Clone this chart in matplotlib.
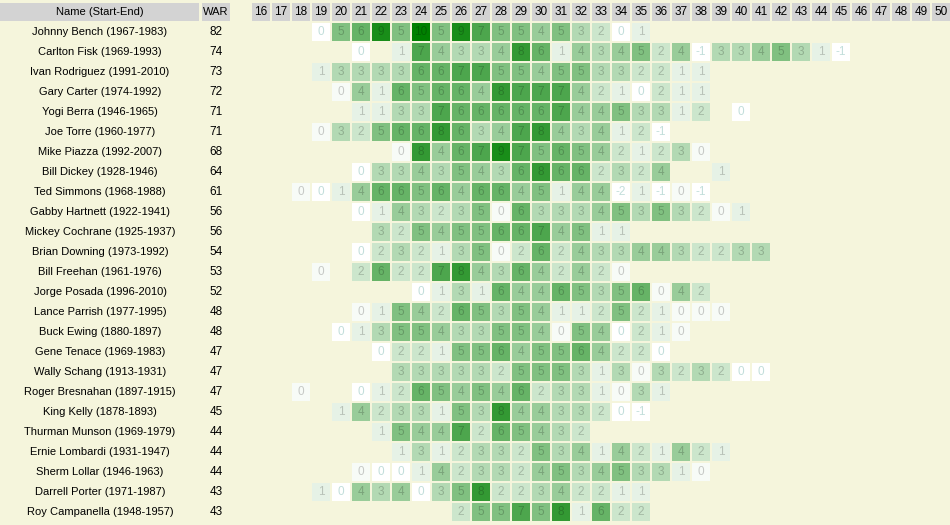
import numpy as np
import matplotlib
matplotlib.use("Agg")
import matplotlib.pyplot as plt
from matplotlib.patches import Rectangle

# data read off the table (None = no season at that age)
names = ["Johnny Bench (1967-1983)", "Carlton Fisk (1969-1993)", "Ivan Rodriguez (1991-2010)",
         "Gary Carter (1974-1992)", "Yogi Berra (1946-1965)", "Joe Torre (1960-1977)",
         "Mike Piazza (1992-2007)", "Bill Dickey (1928-1946)", "Ted Simmons (1968-1988)",
         "Gabby Hartnett (1922-1941)", "Mickey Cochrane (1925-1937)", "Brian Downing (1973-1992)",
         "Bill Freehan (1961-1976)", "Jorge Posada (1996-2010)", "Lance Parrish (1977-1995)",
         "Buck Ewing (1880-1897)", "Gene Tenace (1969-1983)", "Wally Schang (1913-1931)",
         "Roger Bresnahan (1897-1915)", "King Kelly (1878-1893)", "Thurman Munson (1969-1979)",
         "Ernie Lombardi (1931-1947)", "Sherm Lollar (1946-1963)", "Darrell Porter (1971-1987)",
         "Roy Campanella (1948-1957)"]
war = [82, 74, 73, 72, 71, 71, 68, 64, 61, 56, 56, 54, 53, 52, 48, 48, 47, 47, 47, 45, 44, 44, 44, 43, 43]
first_age = [19, 21, 19, 20, 21, 19, 23, 21, 18, 21, 22, 21, 19, 24, 21, 20, 22, 23, 18, 20, 22, 23, 21, 19, 26]
seasons = [
    [0, 5, 6, 9, 5, 10, 5, 9, 7, 5, 5, 4, 5, 3, 2, 0, 1],
    [0, None, 1, 7, 4, 3, 3, 4, 8, 6, 1, 4, 3, 4, 5, 2, 4, -1, 3, 3, 4, 5, 3, 1, -1],
    [1, 3, 3, 3, 3, 6, 6, 7, 7, 5, 5, 4, 5, 5, 3, 3, 2, 2, 1, 1],
    [0.3, 4, 1, 6, 5, 6, 6, 4, 8, 7, 7, 7, 4, 2, 1, 0, 2, 1, 1],
    [1, 1, 3, 3, 7, 6, 6, 6, 6, 6, 7, 4, 4, 5, 3, 3, 1, 2, None, 0],
    [0.3, 3, 2, 5, 6, 6, 8, 6, 3, 4, 7, 8, 4, 3, 4, 1, 2, -1],
    [0.3, 8, 4, 6, 7, 9, 7, 5, 6, 5, 4, 2, 1, 2, 3, 0.3],
    [0, 3, 3, 4, 3, 5, 4, 3, 6, 8, 6, 6, 2, 3, 2, 4, None, None, 1],
    [0.3, 0, 1, 4, 6, 6, 5, 6, 4, 6, 6, 4, 5, 1, 4, 4, -2, 1, -1, 0.3, -1],
    [0, 1, 4, 3, 2, 3, 5, 0.3, 6, 3, 3, 3, 4, 5, 3, 5, 3, 2, 0.3, 1],
    [3, 2, 5, 4, 5, 5, 6, 6, 7, 4, 5, 1, 1],
    [0, 2, 3, 2, 1, 3, 5, 0.3, 2, 6, 2, 4, 3, 3, 4, 4, 3, 2, 2, 3, 3],
    [0.3, None, 2, 6, 2, 2, 7, 8, 4, 3, 6, 4, 2, 4, 2, 0.3],
    [0, 1, 3, 1, 6, 4, 4, 6, 5, 3, 5, 6, 0.3, 4, 2],
    [0.3, 1, 5, 4, 2, 6, 5, 3, 5, 4, 1, 1, 2, 5, 2, 1, 0.3, 0.3, 0.3],
    [0, 1, 3, 5, 5, 4, 3, 3, 5, 5, 4, 0.3, 5, 4, 0, 2, 1, 0.3],
    [0, 2, 2, 1, 5, 5, 6, 4, 5, 5, 6, 4, 2, 2, 0],
    [3, 3, 3, 3, 3, 2, 5, 5, 5, 3, 1, 3, 0.3, 3, 2, 3, 2, 0, 0],
    [0.3, None, None, 0, 1, 2, 6, 5, 4, 5, 4, 6, 2, 3, 3, 1, 0.3, 3, 1],
    [1, 4, 2, 3, 3, 1, 5, 3, 8, 4, 4, 3, 3, 2, 0, -1],
    [1, 5, 4, 4, 7, 2, 6, 5, 4, 3, 2],
    [1, 3, 1, 2, 3, 3, 2, 5, 3, 4, 1, 4, 2, 1, 4, 2, 1],
    [0.3, 0, 0, 1, 4, 2, 3, 3, 2, 4, 5, 3, 4, 5, 3, 3, 1, 0.3],
    [1, 0, 4, 3, 4, 0, 3, 5, 8, 2, 2, 3, 4, 2, 2, 1, 1],
    [2, 5, 5, 7, 5, 8, 1, 6, 2, 2],
]
ages = list(range(16, 51))

# layout in pixels
W, H = 950, 525
row0, pitch, cell = 23, 20, 18
age_x0 = 252
bg = "#f5f5dc"
head = "#d3d3d3"
font = "Liberation Sans"

def cell_color(v):
    f = min(max(v, 0), 10) / 10.0
    return np.array([1.0, 1.0, 1.0]) * (1 - f) + np.array([0.0, 128 / 255, 0.0]) * f

fig = plt.figure(figsize=(9.5, 5.25), dpi=100)
fig.patch.set_facecolor(bg)
ax = fig.add_axes([0, 0, 1, 1])
ax.set_xlim(0, W)
ax.set_ylim(H, 0)
ax.axis("off")

# header
ax.add_patch(Rectangle((0, 3), 199, cell, color=head, lw=0))
ax.text(100, 12, "Name (Start-End)", ha="center", va="center", fontsize=8, family=font)
ax.add_patch(Rectangle((202, 3), 28, cell, color=head, lw=0))
ax.text(216, 12, "WAR", ha="center", va="center", fontsize=8, family=font)
for j, a in enumerate(ages):
    x = age_x0 + j * pitch
    ax.add_patch(Rectangle((x, 3), cell, cell, color=head, lw=0))
    ax.text(x + cell / 2, 12, str(a), ha="center", va="center", fontsize=8.5, family=font)

for i in range(len(names)):
    y = row0 + i * pitch
    ax.text(100, y + 9, names[i], ha="center", va="center", fontsize=8, family=font)
    ax.text(216, y + 9, str(war[i]), ha="center", va="center", fontsize=8.5, family=font)
    for k, v in enumerate(seasons[i]):
        if v is None:
            continue
        x = age_x0 + (first_age[i] + k - 16) * pitch
        c = cell_color(v)
        ax.add_patch(Rectangle((x, y), cell, cell, color=c, lw=0))
        if v <= 0:
            tc = "#c2dedb"
        else:
            tc = c * 0.8
        ax.text(x + cell / 2, y + 9, str(int(round(v))), ha="center", va="center",
                fontsize=8.5, family=font, color=tc)

fig.savefig("out.png", dpi=100, facecolor=bg)
